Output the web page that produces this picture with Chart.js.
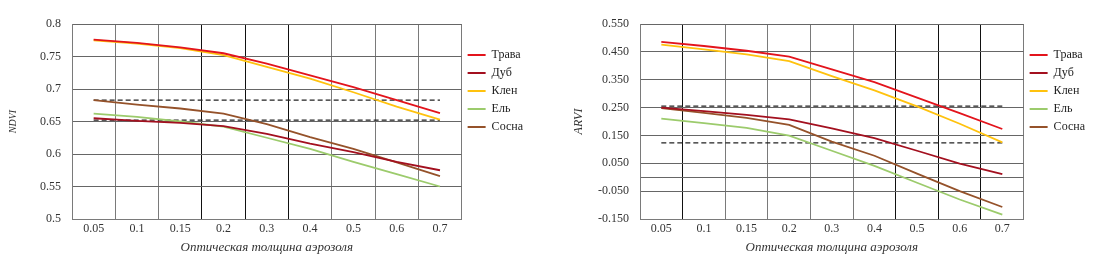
<!DOCTYPE html>
<html>
<head>
<meta charset="utf-8">
<script src="https://cdn.jsdelivr.net/npm/chart.js@4/dist/chart.umd.min.js"></script>
<style>
  body { margin: 0; background: #fff; }
  .box { position: absolute; top: 0; height: 263px; }
  #left { left: 0; width: 548px; }
  #right { left: 548px; width: 562px; }
</style>
</head>
<body>
<div class="box" id="left"><canvas id="ndviChart"></canvas></div>
<div class="box" id="right"><canvas id="arviChart"></canvas></div>
<script>
// optical thickness of aerosol (x axis categories)
const categories = ['0.05', '0.1', '0.15', '0.2', '0.3', '0.4', '0.5', '0.6', '0.7'];
const seriesNames = ['Трава', 'Дуб', 'Клен', 'Ель', 'Сосна'];
const seriesColors = ['#e3141c', '#a3101f', '#ffc20e', '#9ccb6c', '#95522a'];

// NDVI values
const ndviGrass = [0.776, 0.771, 0.764, 0.755, 0.739, 0.721, 0.703, 0.683, 0.663];
const ndviOak   = [0.655, 0.651, 0.648, 0.643, 0.631, 0.616, 0.603, 0.588, 0.575];
const ndviMaple = [0.775, 0.770, 0.763, 0.752, 0.734, 0.716, 0.695, 0.673, 0.653];
const ndviSpruce = [0.662, 0.657, 0.650, 0.642, 0.625, 0.608, 0.588, 0.569, 0.550];
const ndviPine  = [0.683, 0.676, 0.670, 0.662, 0.646, 0.626, 0.608, 0.587, 0.566];
const ndviThresholds = [0.683, 0.652];
const ndviTicks = [0.5, 0.55, 0.6, 0.65, 0.7, 0.75, 0.8];

// ARVI values
const arviGrass = [0.486, 0.471, 0.454, 0.433, 0.387, 0.341, 0.286, 0.230, 0.173];
const arviOak   = [0.250, 0.237, 0.224, 0.208, 0.175, 0.140, 0.095, 0.049, 0.011];
const arviMaple = [0.476, 0.459, 0.441, 0.417, 0.363, 0.312, 0.254, 0.192, 0.125];
const arviSpruce = [0.210, 0.194, 0.177, 0.149, 0.095, 0.041, -0.020, -0.080, -0.134];
const arviPine  = [0.248, 0.231, 0.213, 0.188, 0.128, 0.077, 0.013, -0.050, -0.107];
const arviThresholds = [0.255, 0.123];
const arviTicks = [-0.15, -0.05, 0, 0.05, 0.15, 0.25, 0.35, 0.45, 0.55];

const serif = 'Liberation Serif, DejaVu Serif, serif';

function makeDatasets(series, thresholds) {
  const sets = series.map((values, i) => ({
    label: seriesNames[i],
    data: values,
    borderColor: seriesColors[i],
    backgroundColor: seriesColors[i],
    borderWidth: 1.8,
    pointRadius: 0,
    tension: 0
  }));
  // dashed threshold lines
  thresholds.forEach(t => {
    sets.push({
      label: 'порог',
      data: categories.map(() => t),
      borderColor: '#222',
      borderWidth: 1.2,
      borderDash: [5, 3],
      pointRadius: 0
    });
  });
  return sets;
}

function makeChart(id, opts) {
  return new Chart(document.getElementById(id), {
    type: 'line',
    data: { labels: categories, datasets: makeDatasets(opts.series, opts.thresholds) },
    options: {
      responsive: true,
      maintainAspectRatio: false,
      animation: false,
      layout: { padding: { top: 24, right: opts.padRight, bottom: 8, left: 0 } },
      plugins: {
        tooltip: { enabled: false },
        legend: {
          position: 'right',
          align: 'start',
          title: { display: true, text: '', padding: { top: 7, bottom: 0 }, font: { size: 10 } },
          labels: {
            filter: item => item.datasetIndex < seriesNames.length,
            usePointStyle: true,
            pointStyle: 'line',
            pointStyleWidth: 18,
            padding: 6,
            color: '#222',
            font: { family: serif, size: 12 }
          }
        }
      },
      scales: {
        x: {
          offset: true,
          grid: {
            offset: true,
            drawTicks: false,
            color: ctx => opts.darkLines.includes(ctx.index) ? '#111' : '#7a7a7a'
          },
          border: { color: '#7a7a7a' },
          ticks: { color: '#333', padding: 3, font: { family: serif, size: 12 } },
          title: {
            display: true,
            text: 'Оптическая толщина аэрозоля',
            color: '#333',
            padding: { top: 0, bottom: 0 },
            font: { family: serif, size: 13, style: 'italic' }
          }
        },
        y: {
          min: opts.ticks[0],
          max: opts.ticks[opts.ticks.length - 1],
          afterBuildTicks: scale => { scale.ticks = opts.ticks.map(v => ({ value: v })); },
          afterFit: scale => { scale.width = opts.axisWidth; },
          grid: { drawTicks: false, color: '#666' },
          border: { color: '#7a7a7a' },
          ticks: {
            color: '#333',
            padding: 11,
            font: { family: serif, size: 12 },
            callback: opts.tickLabel
          },
          title: {
            display: true,
            text: opts.title,
            color: '#333',
            padding: { top: opts.titleOffset, bottom: 0 },
            font: { family: serif, size: opts.titleSize, style: 'italic' }
          }
        }
      }
    }
  });
}

makeChart('ndviChart', {
  series: [ndviGrass, ndviOak, ndviMaple, ndviSpruce, ndviPine],
  thresholds: ndviThresholds,
  ticks: ndviTicks,
  title: 'NDVI',
  titleSize: 10,
  titleOffset: 7,
  axisWidth: 72,
  padRight: 15,
  darkLines: [3, 4, 5],
  tickLabel: v => String(Number(v.toFixed(2)))
});

makeChart('arviChart', {
  series: [arviGrass, arviOak, arviMaple, arviSpruce, arviPine],
  thresholds: arviThresholds,
  ticks: arviTicks,
  title: 'ARVI',
  titleSize: 12,
  titleOffset: 24,
  axisWidth: 92,
  padRight: 15,
  darkLines: [1, 6, 7, 8],
  tickLabel: v => v === 0 ? '' : v.toFixed(3)
});
</script>
</body>
</html>
